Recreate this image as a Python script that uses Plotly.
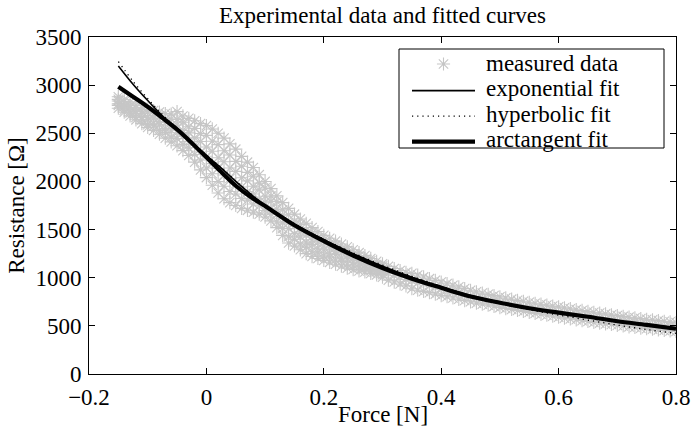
import plotly.graph_objects as go

# ---------------- data ----------------
# Sampling grid of the measured sweeps (Force in N)
force_full = [round(-0.15 + 0.01 * i, 2) for i in range(96)]      # -0.15 .. 0.80
force_mid = [round(-0.15 + 0.01 * i, 2) for i in range(46)]       # -0.15 .. 0.30
force_right = [round(0.30 + 0.01 * i, 2) for i in range(51)]      # 0.30 .. 0.80

# upper edge of the measured cloud (Ohm)
meas_upper = [2880, 2850, 2825, 2790, 2770, 2750, 2735, 2720, 2705, 2700,
              2725, 2680, 2655, 2630, 2600, 2580, 2545, 2500, 2450, 2390,
              2335, 2260, 2200, 2145, 2070, 2000, 1925, 1850, 1780, 1720,
              1660, 1610, 1565, 1520, 1480, 1440, 1410, 1380, 1350, 1320,
              1290, 1260, 1230, 1200, 1170, 1145, 1118, 1095, 1075, 1055,
              1045, 1028, 1008, 990, 972, 955, 938, 922, 905, 888,
              870, 854, 840, 827, 815, 802, 790, 777, 765, 755,
              745, 735, 725, 715, 705, 697, 688, 678, 668, 660,
              650, 641, 632, 624, 614, 606, 598, 590, 583, 575,
              568, 562, 555, 548, 541, 535]
# lower edge of the measured cloud (Ohm)
meas_lower = [2760, 2720, 2680, 2640, 2600, 2560, 2530, 2490, 2450, 2410,
              2370, 2320, 2270, 2200, 2120, 2040, 1960, 1880, 1820, 1780,
              1750, 1720, 1700, 1680, 1660, 1630, 1590, 1520, 1440, 1360,
              1330, 1290, 1250, 1220, 1200, 1180, 1160, 1140, 1120, 1100,
              1085, 1070, 1060, 1045, 1030, 1005, 975, 955, 935, 915,
              886, 870, 858, 845, 830, 815, 803, 790, 776, 763,
              750, 736, 726, 714, 703, 690, 680, 670, 660, 650,
              640, 630, 620, 610, 600, 590, 580, 571, 563, 554,
              545, 536, 529, 520, 514, 505, 499, 490, 485, 476,
              471, 465, 457, 452, 447, 442]
# intermediate sweeps in the wide part of the cloud (Ohm)
meas_mid1 = [2790, 2740, 2712, 2665, 2640, 2590, 2575, 2530, 2508, 2460,
             2445, 2385, 2350, 2280, 2222, 2140, 2080, 1998, 1950, 1895,
             1870, 1822, 1806, 1765, 1748, 1698, 1660, 1580, 1512, 1425,
             1400, 1350, 1318, 1275, 1260, 1228, 1214, 1184, 1170, 1140,
             1130, 1104, 1098, 1072, 1062, 1032]
meas_mid2 = [2805, 2778, 2730, 2706, 2662, 2640, 2604, 2588, 2548, 2532,
             2505, 2470, 2416, 2378, 2305, 2262, 2185, 2134, 2066, 2030,
             1976, 1942, 1894, 1870, 1818, 1784, 1716, 1658, 1570, 1510,
             1456, 1424, 1368, 1346, 1306, 1290, 1254, 1242, 1206, 1194,
             1162, 1150, 1122, 1112, 1080, 1066]
meas_mid3 = [2836, 2792, 2770, 2724, 2708, 2668, 2656, 2622, 2612, 2578,
             2586, 2530, 2504, 2452, 2414, 2358, 2314, 2246, 2204, 2140,
             2104, 2038, 2006, 1950, 1912, 1846, 1794, 1712, 1650, 1570,
             1534, 1476, 1442, 1394, 1374, 1330, 1316, 1278, 1264, 1226,
             1214, 1178, 1168, 1132, 1120, 1082]
meas_mid4 = [2852, 2830, 2786, 2766, 2730, 2718, 2684, 2680, 2652, 2648,
             2644, 2614, 2568, 2550, 2498, 2478, 2418, 2382, 2318, 2274,
             2208, 2158, 2094, 2054, 1982, 1932, 1848, 1790, 1706, 1654,
             1588, 1552, 1492, 1466, 1418, 1394, 1354, 1338, 1298, 1282,
             1244, 1228, 1190, 1175, 1136, 1120]
# centre sweep of the narrow right part (Ohm)
meas_right = [1075, 1050, 1020, 1008, 982, 970, 946, 938, 916, 905,
              882, 876, 852, 844, 822, 810, 788, 784, 766, 764,
              742, 739, 718, 716, 698, 696, 678, 676, 658, 656,
              640, 638, 622, 620, 604, 600, 584, 583, 569, 568,
              552, 553, 537, 538, 522, 524, 512, 508, 498, 494, 487]

# fitted curves
fit_force = [-0.15, -0.125, -0.10, -0.075, -0.05, -0.025, 0.0, 0.025, 0.05, 0.075,
             0.10, 0.15, 0.20, 0.25, 0.30, 0.35, 0.40, 0.45, 0.50, 0.55,
             0.60, 0.65, 0.70, 0.75, 0.80]
fit_exponential = [3200, 3010, 2840, 2680, 2535, 2400, 2270, 2140, 2000, 1870,
                   1750, 1555, 1395, 1250, 1120, 1005, 905, 815, 745, 685,
                   635, 590, 550, 515, 480]
fit_hyperbolic = [3245, 3040, 2860, 2695, 2545, 2405, 2275, 2145, 2005, 1875,
                  1755, 1560, 1400, 1258, 1130, 1015, 910, 812, 735, 668,
                  612, 560, 508, 462, 422]
fit_arctangent = [2984, 2880, 2775, 2660, 2540, 2400, 2250, 2100, 1955, 1840,
                  1745, 1545, 1380, 1230, 1100, 990, 895, 805, 740, 683,
                  637, 595, 548, 510, 470]

x_ticks = [-0.2, 0, 0.2, 0.4, 0.6, 0.8]
x_tick_text = ["\u22120.2", "0", "0.2", "0.4", "0.6", "0.8"]
y_ticks = [0, 500, 1000, 1500, 2000, 2500, 3000, 3500]

legend_labels = ["measured data", "exponential fit", "hyperbolic fit", "arctangent fit"]

# ---------------- figure ----------------
FONT = "Liberation Serif"
FS = 23
GRAY = "#c6c6c6"
W, H = 692, 437
L, R, T, B = 89, 676, 37, 374          # plot area in pixels

fig = go.Figure()

marker = dict(symbol="asterisk-open", size=11, color=GRAY,
              line=dict(color=GRAY, width=1.1))
HYP_DASH = "1.2px,4px"

sweeps = [(force_full, meas_upper), (force_full, meas_lower),
          (force_mid, meas_mid1), (force_mid, meas_mid2),
          (force_mid, meas_mid3), (force_mid, meas_mid4),
          (force_right, meas_right)]
for xs, ys in sweeps:
    fig.add_trace(go.Scatter(x=xs, y=ys, mode="markers", marker=marker,
                             showlegend=False, hoverinfo="skip"))

fig.add_trace(go.Scatter(x=fit_force, y=fit_exponential, mode="lines",
                         line=dict(color="black", width=1.6, shape="spline"),
                         showlegend=False))
fig.add_trace(go.Scatter(x=fit_force, y=fit_hyperbolic, mode="lines",
                         line=dict(color="black", width=1.3, dash=HYP_DASH,
                                   shape="spline"),
                         showlegend=False))
fig.add_trace(go.Scatter(x=fit_force, y=fit_arctangent, mode="lines",
                         line=dict(color="black", width=4.2, shape="spline"),
                         showlegend=False))

# ---- legend box (MATLAB style), drawn on a pixel-unit overlay axis ----
box_x0, box_x1, box_y0, box_y1 = 399, 664, 49, 148
row_y = [65, 90.6, 116.1, 141.7]
samp_x0, samp_x1, text_x = 412, 475, 484

leg = dict(xaxis="x2", yaxis="y2", showlegend=False, hoverinfo="skip")
fig.add_trace(go.Scatter(x=[box_x0, box_x1, box_x1, box_x0, box_x0],
                         y=[box_y0, box_y0, box_y1, box_y1, box_y0],
                         mode="lines", fill="toself", fillcolor="white",
                         line=dict(color="black", width=1), **leg))
fig.add_trace(go.Scatter(x=[(samp_x0 + samp_x1) / 2], y=[row_y[0] - 1],
                         mode="markers", marker=marker, **leg))
fig.add_trace(go.Scatter(x=[samp_x0, samp_x1], y=[row_y[1], row_y[1]], mode="lines",
                         line=dict(color="black", width=1.6), **leg))
fig.add_trace(go.Scatter(x=[samp_x0, samp_x1], y=[row_y[2], row_y[2]], mode="lines",
                         line=dict(color="black", width=1.3, dash=HYP_DASH), **leg))
fig.add_trace(go.Scatter(x=[samp_x0, samp_x1], y=[row_y[3], row_y[3]], mode="lines",
                         line=dict(color="black", width=4.2), **leg))
for label, yy in zip(legend_labels, row_y):
    fig.add_annotation(x=text_x, y=yy - 2, xref="x2", yref="y2", text=label,
                       showarrow=False, xanchor="left", yanchor="middle",
                       font=dict(family=FONT, size=FS, color="black"))

# x-axis title placed like the reference (close under the tick labels)
fig.add_annotation(x=0.5, xref="paper", y=-(414 - B) / (B - T), yref="paper",
                   text="Force [N]", showarrow=False, xanchor="center",
                   yanchor="middle", font=dict(family=FONT, size=FS, color="black"))

axis_common = dict(showline=True, linecolor="black", linewidth=1, mirror="ticks",
                   ticks="inside", ticklen=6, tickcolor="black", tickwidth=1,
                   showgrid=False, zeroline=False, ticklabelstandoff=2,
                   automargin=False,
                   tickfont=dict(family=FONT, size=FS, color="black"))

fig.update_layout(
    template="none",
    width=W, height=H,
    margin=dict(l=L, r=W - R, t=T, b=H - B, autoexpand=False),
    paper_bgcolor="white", plot_bgcolor="white",
    xaxis=dict(range=[-0.2, 0.8], tickmode="array", tickvals=x_ticks,
               ticktext=x_tick_text, **axis_common),
    yaxis=dict(range=[0, 3500], tickmode="array", tickvals=y_ticks,
               title=dict(text="Resistance [\u03a9]", standoff=4,
                          font=dict(family=FONT, size=FS, color="black")),
               **axis_common),
    xaxis2=dict(overlaying="x", range=[L, R], visible=False, fixedrange=True,
                automargin=False),
    yaxis2=dict(overlaying="y", range=[B, T], visible=False, fixedrange=True,
                automargin=False),
    title=dict(text="Experimental data and fitted curves", x=0.5, xref="paper",
               xanchor="center", y=1 - 15 / H, yref="container", yanchor="middle",
               font=dict(family=FONT, size=FS, color="black")),
    showlegend=False,
)

fig.write_html("out.html")
